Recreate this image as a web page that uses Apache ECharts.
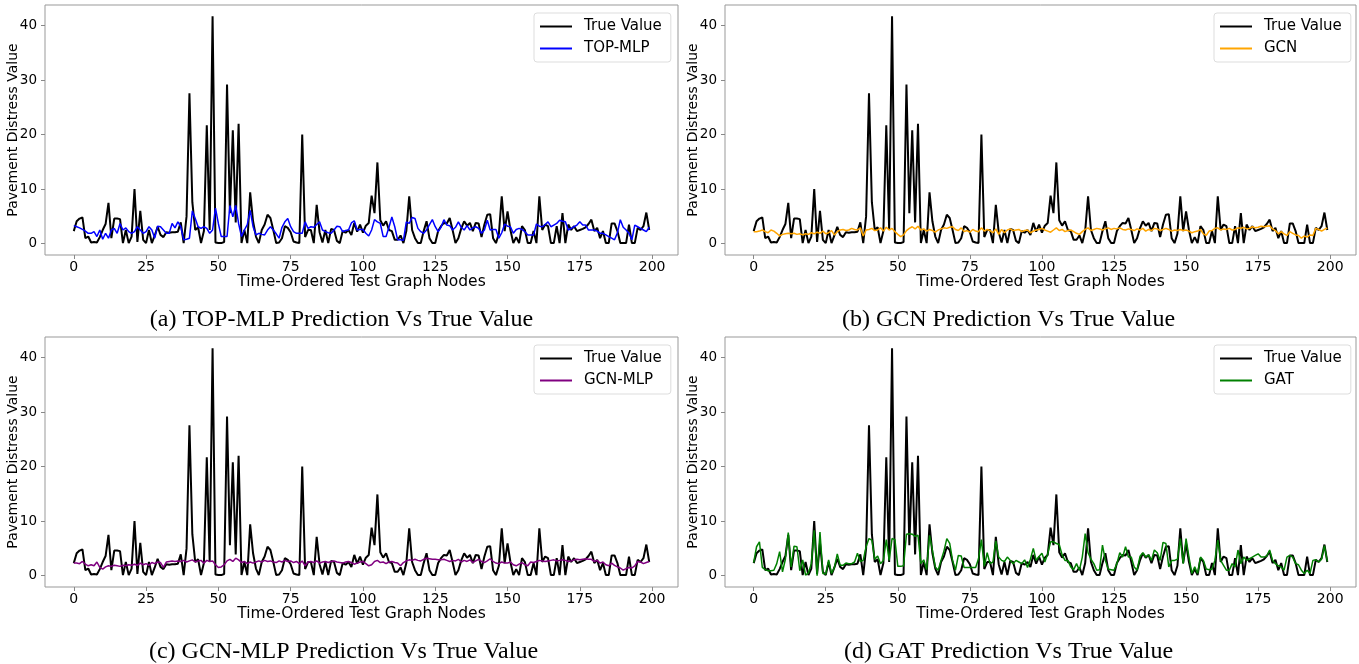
<!DOCTYPE html>
<html>
<head>
<meta charset="utf-8">
<script src="https://cdn.jsdelivr.net/npm/echarts@6/dist/echarts.min.js"></script>
<style>
html,body{margin:0;padding:0;background:#fff;}
#chart{width:1359px;height:664px;}
</style>
</head>
<body>
<div id="chart"></div>
<script>
// ---- Data ----
var trueValues = [
2.3,4.1,4.6,4.8,1.0,1.3,0.2,0.3,0.2,1.2,
2.5,3.6,7.5,1.0,4.6,4.6,4.5,0.1,2.5,0.1,
1.3,10.0,0.3,6.0,0.7,0.1,2.5,0.1,1.5,3.1,
1.6,1.2,2.1,2.0,2.1,2.1,2.2,3.9,0.1,5.0,
27.6,7.6,2.5,3.0,0.1,2.3,21.7,2.5,41.7,0.2,
0.1,0.1,0.3,29.2,5.6,20.8,3.9,22.0,0.1,2.5,
0.1,9.4,4.1,1.3,0.1,2.5,3.5,5.3,4.7,2.5,
0.1,0.2,1.0,3.2,2.9,2.1,0.4,0.2,0.1,20.0,
1.2,2.5,2.5,0.1,7.1,2.1,0.2,2.5,0.1,2.7,
2.5,0.5,0.1,2.3,2.0,2.5,1.6,3.8,2.2,3.5,
2.0,3.3,3.8,8.8,5.6,14.9,4.3,3.3,4.1,2.5,
2.3,0.7,0.7,1.5,0.1,2.3,8.7,2.5,1.0,0.1,
0.1,2.3,4.1,1.0,0.1,0.1,2.3,3.2,3.8,3.7,
4.7,2.5,0.1,1.0,2.8,4.1,3.3,3.8,2.3,3.8,
3.7,1.2,3.5,5.3,5.4,1.0,0.1,1.8,8.7,2.3,
5.9,2.5,0.1,1.2,0.1,3.2,2.5,0.1,0.1,2.3,
0.1,8.7,2.5,3.5,3.2,0.1,0.1,3.2,0.1,5.6,
0.1,3.5,2.5,3.2,2.3,2.5,2.7,3.0,3.6,4.4,
2.3,2.9,1.0,2.3,0.1,0.1,3.7,3.7,2.3,0.1,
0.1,0.1,3.5,0.1,0.1,2.9,2.5,3.2,5.7,2.5
];
var topMlpValues = [
3.3,3.1,2.9,2.6,2.3,1.9,1.9,2.2,1.3,2.5,
0.8,1.9,1.0,2.5,2.8,1.9,3.7,2.5,2.9,2.2,
1.9,2.2,3.1,2.5,1.9,2.2,3.1,2.5,1.0,3.2,
3.1,2.5,1.9,1.9,3.7,2.9,4.0,3.1,0.7,0.8,
1.0,6.0,4.6,3.1,2.8,3.1,2.8,1.9,2.5,6.5,
3.7,1.3,1.3,1.3,7.0,4.9,7.0,3.7,1.3,2.5,
3.5,6.1,3.1,1.6,1.9,1.7,1.6,2.5,3.1,2.5,
1.8,1.0,3.0,4.0,4.6,3.1,2.2,1.9,1.9,1.9,
4.0,2.8,3.1,3.0,3.5,4.0,2.5,2.2,2.0,1.9,
2.5,3.2,3.1,2.2,2.4,2.5,3.8,4.2,2.5,2.6,
2.6,1.9,1.4,2.5,4.4,4.0,3.7,1.3,1.3,3.0,
4.9,3.1,0.7,0.7,0.6,4.0,3.7,4.8,4.6,2.8,
2.2,1.9,2.5,3.5,4.4,3.1,2.2,3.0,4.4,3.4,
3.3,2.5,3.0,4.0,3.0,2.5,3.3,2.5,2.9,3.1,
2.8,1.9,2.5,4.3,2.5,2.6,2.6,1.0,2.0,3.6,
3.2,3.1,1.9,2.6,2.8,2.6,2.2,1.6,1.6,1.6,
3.6,3.2,3.1,3.5,4.0,3.1,3.4,3.7,4.3,4.1,
4.0,2.5,2.8,3.1,3.4,4.0,3.4,3.4,2.5,2.5,
2.5,2.3,1.9,1.9,1.6,1.3,1.0,0.7,2.0,4.4,
3.0,2.5,1.9,0.7,3.4,3.1,2.8,2.5,2.2,3.0
];
var gcnValues = [
2.2,2.2,2.3,2.5,2.2,2.0,2.5,2.3,1.9,1.4,
1.7,1.8,1.9,1.8,1.9,1.7,1.8,1.6,1.8,1.7,
2.0,1.8,2.1,1.9,2.3,1.8,2.0,2.4,1.6,2.2,
2.5,2.6,2.4,2.5,2.8,2.6,2.5,2.9,1.4,2.5,
2.6,2.8,2.4,2.5,2.9,2.3,3.0,2.5,2.8,2.2,
1.7,1.3,1.6,2.4,2.8,3.1,2.7,3.2,2.5,2.7,
2.3,2.6,2.4,2.1,2.5,2.7,2.9,2.8,3.0,3.1,
2.6,2.4,2.9,2.2,2.4,2.1,2.6,2.3,2.2,2.9,
2.3,2.6,2.4,2.0,2.7,1.7,2.6,2.0,2.5,2.7,
2.4,2.5,2.6,2.2,2.4,2.5,2.0,2.3,2.5,2.6,
2.8,2.5,2.3,2.1,2.5,2.9,2.4,2.6,2.2,2.4,
2.5,2.2,1.9,1.7,2.2,2.6,2.9,2.4,2.6,2.8,
2.7,2.5,2.7,2.9,2.6,2.8,2.7,2.9,2.6,2.5,
2.7,2.6,2.4,2.7,2.5,2.8,2.3,2.6,2.4,2.8,
2.7,2.4,2.6,2.8,2.6,2.3,2.5,2.4,2.6,2.4,
2.5,2.3,2.0,2.2,2.3,2.6,1.8,1.5,2.3,2.4,
2.8,2.9,2.5,2.7,2.6,2.8,2.5,2.6,2.9,2.8,
3.0,2.7,2.8,3.1,2.9,3.0,3.2,3.1,3.2,3.3,
2.7,2.4,1.8,2.2,1.8,1.5,2.2,1.9,1.6,1.5,
1.0,1.4,1.2,1.6,1.5,2.8,2.6,2.3,2.6,2.9
];
var gcnMlpValues = [
2.3,2.3,2.2,2.6,2.1,1.8,2.0,1.8,2.5,1.5,
1.2,1.6,1.8,1.7,1.9,1.8,1.7,1.9,1.8,2.0,
1.9,2.1,1.9,2.3,2.0,2.2,1.9,2.4,2.2,2.5,
2.4,1.5,2.5,2.6,2.7,2.6,2.7,2.6,2.8,2.5,
2.7,2.9,2.5,2.7,2.8,2.3,2.8,2.6,2.7,2.0,
1.5,1.6,2.0,2.7,3.0,2.6,3.2,2.9,2.4,2.6,
2.2,2.5,2.3,2.5,2.7,2.5,2.8,2.6,2.7,2.5,
2.4,2.7,2.5,2.8,2.6,2.7,2.4,2.6,2.2,2.7,
1.8,2.5,2.6,2.4,2.7,2.3,2.5,2.6,2.4,2.6,
2.7,2.5,2.4,2.3,2.5,2.6,2.4,2.1,2.3,2.5,
2.6,2.2,1.8,2.0,2.6,2.8,2.4,2.5,2.2,2.5,
2.6,2.4,2.3,1.8,2.4,2.7,2.9,2.8,3.0,2.8,
2.7,3.0,3.2,3.1,3.0,3.0,2.9,2.9,3.0,2.8,
2.6,2.8,2.7,3.0,2.5,2.8,2.6,2.9,2.4,2.7,
3.0,2.6,2.4,2.7,3.1,2.6,2.3,2.2,2.5,2.3,
2.3,2.5,2.0,1.8,2.1,2.4,2.0,1.8,2.5,2.4,
2.6,2.8,2.7,2.6,2.7,2.8,2.9,2.7,2.8,2.9,
2.8,2.6,2.7,2.9,3.0,2.9,3.0,3.1,3.0,3.0,
2.6,2.8,2.3,2.5,2.0,1.8,2.3,1.9,1.6,1.4,
1.0,1.3,1.5,1.4,1.8,2.6,2.5,2.2,2.4,2.6
];
var gatValues = [
2.4,5.3,6.2,1.5,1.1,0.9,0.9,1.0,2.2,4.4,
0.7,3.0,7.9,1.6,5.4,5.3,0.9,2.9,0.1,0.5,
2.2,8.3,0.0,8.0,0.4,0.3,2.9,0.4,1.5,4.0,
1.9,1.9,2.3,2.2,2.2,2.5,4.1,2.6,2.8,5.3,
6.8,6.5,3.0,3.6,2.2,2.8,6.6,2.8,6.8,6.6,
1.7,1.7,1.8,7.6,7.7,7.6,7.2,7.4,2.2,2.9,
1.1,7.4,4.7,1.6,1.0,2.8,4.5,6.8,5.9,2.8,
1.0,3.7,3.6,1.5,1.5,1.5,1.5,1.5,3.1,6.6,
1.7,4.2,2.2,2.5,6.4,3.4,2.8,2.6,3.4,2.8,
2.2,2.8,2.5,2.2,2.9,1.5,3.0,5.0,2.8,3.5,
4.1,2.5,4.0,6.2,6.2,5.9,5.7,3.8,2.8,2.8,
1.6,1.1,2.2,1.0,3.4,7.7,4.2,3.0,2.2,1.0,
1.1,5.6,2.8,1.2,1.1,1.0,2.2,4.2,3.4,5.3,
3.4,3.4,1.6,1.0,3.5,4.2,3.4,3.8,2.8,4.7,
4.2,2.8,6.1,5.9,1.6,2.8,2.8,3.0,6.8,2.2,
6.8,3.4,0.4,1.6,0.4,3.4,2.8,1.2,1.1,1.2,
2.8,6.5,2.8,1.9,1.0,1.0,2.2,1.6,4.7,2.2,
3.4,2.8,3.1,3.4,3.7,4.0,3.4,3.4,3.6,4.7,
2.8,2.2,1.8,1.6,1.0,3.4,3.7,3.4,2.2,2.0,
1.0,0.4,1.0,0.4,2.8,2.9,2.5,3.0,5.5,2.6
];
var xTickValues = [0, 25, 50, 75, 100, 125, 150, 175, 200];
var yTickValues = [0, 10, 20, 30, 40];
var panelNames = ['TOP-MLP', 'GCN', 'GCN-MLP', 'GAT'];
var panelColors = ['#0000ff', '#ffa500', '#800080', '#008000'];
var panelCaptions = [
  '(a) TOP-MLP Prediction Vs True Value',
  '(b) GCN Prediction Vs True Value',
  '(c) GCN-MLP Prediction Vs True Value',
  '(d) GAT Prediction Vs True Value'
];
var predictions = [topMlpValues, gcnValues, gcnMlpValues, gatValues];

// ---- Build chart ----
function pairs(arr){ return arr.map(function(v,i){ return [i, v]; }); }
var n = trueValues.length;
var xMin = -(n - 1) * 0.05, xMax = (n - 1) * 1.05;
var allMax = Math.max.apply(null, trueValues);
var yMin = -allMax * 0.05, yMax = allMax * 1.05;

var grids = [
  {left: 45, top: 5, width: 633, height: 250},
  {left: 725, top: 5, width: 631, height: 250},
  {left: 45, top: 337, width: 633, height: 250},
  {left: 725, top: 337, width: 631, height: 250}
];
var captionShift = [-20, -32, -18, -32];
var font = 'DejaVu Sans';
var option = {
  animation: false,
  backgroundColor: '#fff',
  grid: grids.map(function(g){ return Object.assign({show: true, borderColor: '#999', borderWidth: 1, backgroundColor: 'transparent', containLabel: false, outerBoundsMode: 'none'}, g); }),
  xAxis: grids.map(function(g, k){ return {
    type: 'value', gridIndex: k, min: xMin, max: xMax, position: 'bottom',
    name: 'Time-Ordered Test Graph Nodes', nameLocation: 'middle', nameGap: 19, nameMoveOverlap: false,
    nameTextStyle: {fontFamily: font, fontSize: 15.5, color: '#000'},
    axisLine: {show: false, onZero: false},
    axisTick: {show: true, length: 4, lineStyle: {color: '#888'}, customValues: xTickValues},
    axisLabel: {fontFamily: font, fontSize: 14, color: '#000', margin: 5, customValues: xTickValues},
    splitLine: {show: false}
  }; }),
  yAxis: grids.map(function(g, k){ return {
    type: 'value', gridIndex: k, min: yMin, max: yMax, position: 'left',
    name: 'Pavement Distress Value', nameLocation: 'middle', nameGap: 25, nameMoveOverlap: false,
    nameTextStyle: {fontFamily: font, fontSize: 14, color: '#000'},
    axisLine: {show: false, onZero: false},
    axisTick: {show: true, length: 4, lineStyle: {color: '#888'}, customValues: yTickValues},
    axisLabel: {fontFamily: font, fontSize: 13.5, color: '#000', margin: 8, customValues: yTickValues},
    splitLine: {show: false}
  }; }),
  legend: grids.map(function(g, k){ return {
    orient: 'vertical', left: g.left + 489, top: g.top + 8,
    data: ['True Value', panelNames[k]],
    icon: 'rect', itemWidth: 32, itemHeight: 2, itemGap: 7,
    padding: [6, 9, 6, 6],
    backgroundColor: 'rgba(255,255,255,0.85)', borderColor: '#ddd', borderWidth: 1, borderRadius: 3,
    textStyle: {fontFamily: font, fontSize: 15, color: '#000', padding: [0, 0, 0, 7]},
    selectedMode: false
  }; }),
  title: grids.map(function(g, k){ return {
    text: panelCaptions[k], left: g.left + g.width / 2 + captionShift[k], top: g.top + 303, textAlign: 'center', padding: 0,
    textStyle: {fontFamily: 'Liberation Serif', fontSize: 24, fontWeight: 'normal', color: '#000'}
  }; }),
  series: []
};
for (var k = 0; k < 4; k++) {
  option.series.push({
    name: 'True Value', type: 'line', xAxisIndex: k, yAxisIndex: k,
    data: pairs(trueValues), symbol: 'none', showSymbol: false,
    lineStyle: {color: '#000', width: 2}, itemStyle: {color: '#000'}, z: 2
  });
  option.series.push({
    name: panelNames[k], type: 'line', xAxisIndex: k, yAxisIndex: k,
    data: pairs(predictions[k]), symbol: 'none', showSymbol: false,
    lineStyle: {color: panelColors[k], width: 1.5}, itemStyle: {color: panelColors[k]}, z: 3
  });
}
var chart = echarts.init(document.getElementById('chart'), null, {renderer: 'canvas'});
chart.setOption(option);
</script>
</body>
</html>
